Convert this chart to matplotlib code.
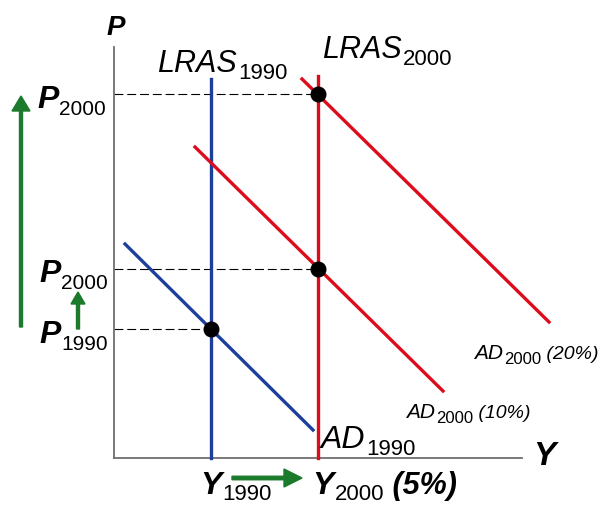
import matplotlib
matplotlib.use("Agg")
import matplotlib.pyplot as plt
from matplotlib.patches import FancyArrow
from matplotlib.transforms import offset_copy

plt.rcParams["font.family"] = ["Liberation Sans", "DejaVu Sans"]

# --- data (axis units, origin at the corner of the two axes) ---
Y_1990, Y_2000 = 97, 204
P_1990, P_2000_10, P_2000_20 = 129, 189, 364
LRAS_1990_TOP, LRAS_2000_TOP = 379, 382

AD_1990_Y = [11, 199]
AD_1990_P = [214, 28]
AD_10_Y = [81, 329]
AD_10_P = [311, 67]
AD_20_Y = [188, 435]
AD_20_P = [379, 136]

BLUE = "#1c3f9c"
RED = "#dc0c1c"
GREEN = "#1b7a2c"
GREY = "#6e6e6e"

fig = plt.figure(figsize=(6.06, 5.06), dpi=100)
ax = fig.add_axes([114 / 606, 47 / 506, 408 / 606, 411 / 506])
ax.set_xlim(0, 408)
ax.set_ylim(0, 411)
for s in ("top", "right"):
    ax.spines[s].set_visible(False)
for s in ("left", "bottom"):
    ax.spines[s].set_color(GREY)
    ax.spines[s].set_linewidth(1.3)
ax.set_xticks([])
ax.set_yticks([])

LW = 2.4
# LRAS verticals
ax.plot([Y_1990, Y_1990], [0, LRAS_1990_TOP], color=BLUE, lw=LW, clip_on=False, zorder=3)
ax.plot([Y_2000, Y_2000], [0, LRAS_2000_TOP], color=RED, lw=LW, clip_on=False, zorder=3)
# AD curves
ax.plot(AD_1990_Y, AD_1990_P, color=BLUE, lw=LW, clip_on=False, zorder=3)
ax.plot(AD_10_Y, AD_10_P, color=RED, lw=LW, clip_on=False, zorder=3)
ax.plot(AD_20_Y, AD_20_P, color=RED, lw=LW, clip_on=False, zorder=3)

# dashed guides to the price axis
for yv, pv in [(Y_1990, P_1990), (Y_2000, P_2000_10), (Y_2000, P_2000_20)]:
    ax.plot([0, yv], [pv, pv], color="black", lw=0.8, ls=(0, (8, 3.5)), zorder=2)
# equilibrium dots
ax.plot([Y_1990, Y_2000, Y_2000], [P_1990, P_2000_10, P_2000_20], "o",
        color="black", ms=10.5, zorder=5, clip_on=False)

# green arrows
ax.add_patch(FancyArrow(-93, 131, 0, 231, width=3, head_width=18, head_length=15,
                        length_includes_head=True, color=GREEN, clip_on=False))
ax.add_patch(FancyArrow(-36, 129, 0, 37, width=3, head_width=14, head_length=12,
                        length_includes_head=True, color=GREEN, clip_on=False))
ax.add_patch(FancyArrow(118, -20, 70, 0, width=3.5, head_width=18, head_length=18,
                        length_includes_head=True, color=GREEN, clip_on=False))

renderer = fig.canvas.get_renderer()


def label(x, y, main, sub, size, sub_size, weight="normal", drop=7, tail=None,
          tail_size=None):
    t = ax.text(x, y, main, fontsize=size, style="italic", weight=weight,
                ha="left", va="baseline", clip_on=False)
    w1 = t.get_window_extent(renderer).width
    s = ax.text(x, y, sub, fontsize=sub_size, ha="left", va="baseline", clip_on=False,
                transform=offset_copy(ax.transData, fig, x=w1 + 1, y=-drop, units="dots"))
    if tail:
        w2 = s.get_window_extent(renderer).width
        ax.text(x, y, tail, fontsize=tail_size or size, style="italic", weight=weight,
                ha="left", va="baseline", clip_on=False,
                transform=offset_copy(ax.transData, fig, x=w1 + w2 + 1, y=0, units="dots"))


ax.text(-7, 424, "P", fontsize=20, style="italic", weight="bold", ha="left",
        va="baseline", clip_on=False)
ax.text(419, -6, "Y", fontsize=24, style="italic", weight="bold", ha="left",
        va="baseline", clip_on=False)

label(43, 387, "LRAS", "1990", 22, 16)
label(208, 401, "LRAS", "2000", 22, 16)
label(-77, 351, "P", "2000", 23, 15, weight="bold")
label(-75, 177, "P", "2000", 23, 15, weight="bold")
label(-75, 116, "P", "1990", 23, 15, weight="bold")
label(86, -35, "Y", "1990", 23, 16, weight="bold", drop=6)
label(198, -35, "Y", "2000", 23, 16, weight="bold", drop=6, tail=" (5%)", tail_size=22)
label(207, 11, "AD", "1990", 23, 16)
label(292, 41, "AD", "2000", 15, 12, drop=5, tail=" (10%)", tail_size=14)
label(360, 100, "AD", "2000", 15, 12, drop=5, tail=" (20%)", tail_size=14)

fig.savefig("out.png", dpi=100, facecolor="white")
